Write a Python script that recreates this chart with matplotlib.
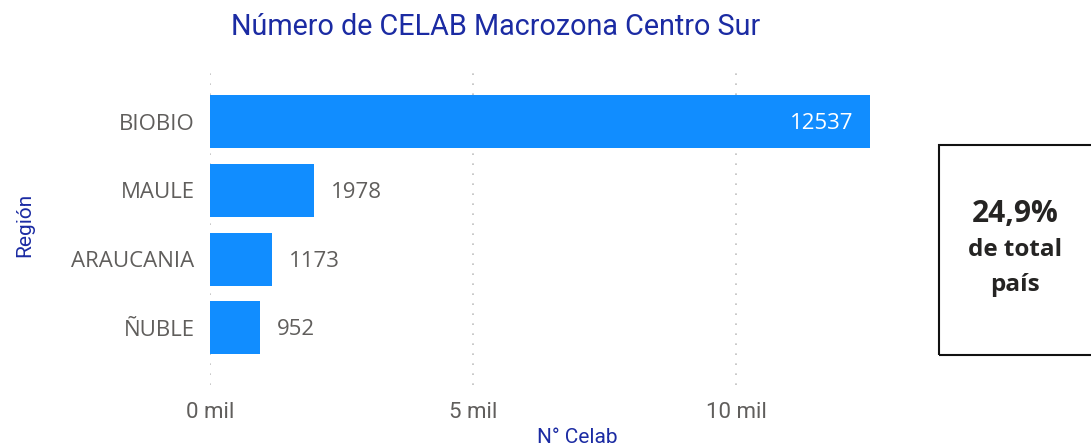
import matplotlib.pyplot as plt
from matplotlib.patches import Rectangle

regions = ["BIOBIO", "MAULE", "ARAUCANIA", "ÑUBLE"]
celab = [12537, 1978, 1173, 952]
tick_vals = [0, 5000, 10000]
tick_labels = ["0 mil", "5 mil", "10 mil"]

BAR = "#118DFF"
BLUE = "#1B2BA3"
GRAY = "#605E5C"

plt.rcParams["font.family"] = ["Open Sans", "DejaVu Sans"]

fig = plt.figure(figsize=(10.91, 4.48), dpi=100)
ax = fig.add_axes([210 / 1091, 1 - 385 / 448, 684 / 1091, 315 / 448])

y = list(range(len(regions)))
ax.barh(y, celab, height=0.77, color=BAR, zorder=2)
ax.set_ylim(3.83, -0.75)
ax.set_xlim(0, 13000)

for i, v in enumerate(celab):
    if v > 6000:
        ax.text(v - 300, i + 0.03, str(v), ha="right", va="center",
                color="white", fontsize=16)
    else:
        ax.text(v + 320, i + 0.03, str(v), ha="left", va="center",
                color=GRAY, fontsize=16)

ax.set_yticks(y)
ax.set_yticklabels(regions, fontsize=16, color=GRAY)
ax.set_xticks(tick_vals)
ax.set_xticklabels(tick_labels, fontsize=16, color=GRAY, family="Roboto")
ax.tick_params(length=0)
ax.tick_params(axis="y", pad=11)
ax.tick_params(axis="x", pad=12)
ax.grid(axis="x", linestyle=(0, (1, 5)), color="#C0C0C0", linewidth=1.2, zorder=0)
for s in ax.spines.values():
    s.set_visible(False)

ax.set_ylabel("Región", fontsize=15, color=BLUE, family="Roboto", va="center")
ax.set_xlabel("N° Celab", fontsize=15, color=BLUE, family="Roboto", va="center")
ax.xaxis.set_label_coords((577 - 210) / 684, -(437 - 385) / 315)
ax.yaxis.set_label_coords(-(210 - 25) / 684, 1 - (225 - 70) / 315)

fig.text(496 / 1091, 1 - 27 / 448, "Número de CELAB Macrozona Centro Sur",
         ha="center", va="center", fontsize=20.7, color=BLUE, family="Roboto")

# KPI card
fig.patches.append(Rectangle((939 / 1091, 1 - 355 / 448), 160 / 1091, 210 / 448,
                             transform=fig.transFigure, fill=False,
                             edgecolor="#111111", linewidth=1.5))
fig.text(1015 / 1091, 1 - 214 / 448, "24,9%", ha="center", va="center",
         fontsize=21.5, fontweight="bold", color="#252423")
fig.text(1015 / 1091, 1 - 250 / 448, "de total", ha="center", va="center",
         fontsize=17.5, fontweight="bold", color="#252423")
fig.text(1015 / 1091, 1 - 285 / 448, "país", ha="center", va="center",
         fontsize=17.5, fontweight="bold", color="#252423")

fig.savefig("out.png", dpi=100)
